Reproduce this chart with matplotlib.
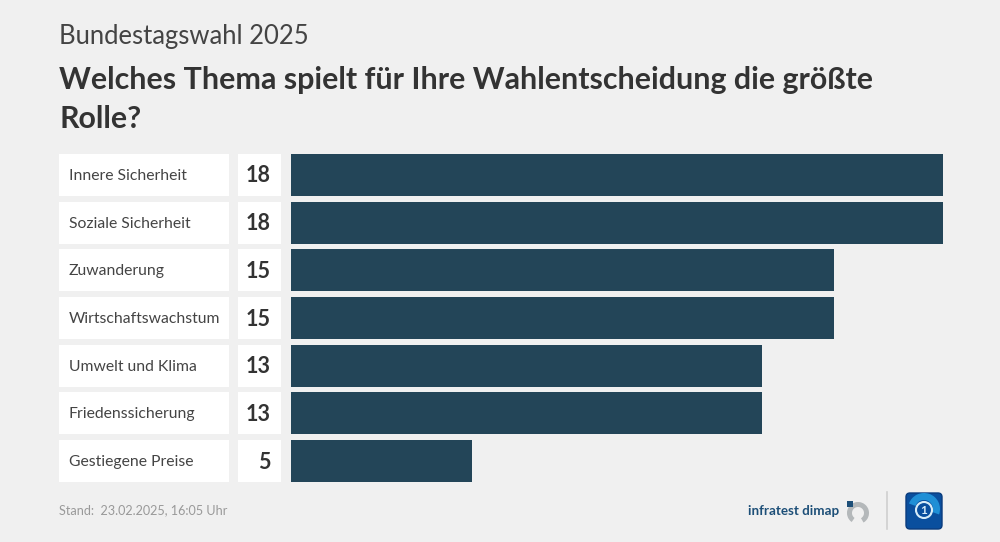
import matplotlib
matplotlib.use('Agg')
import matplotlib.pyplot as plt
from matplotlib.patches import Rectangle, Wedge, FancyBboxPatch, Circle

# data
themen = ['Innere Sicherheit', 'Soziale Sicherheit', 'Zuwanderung', 'Wirtschaftswachstum',
          'Umwelt und Klima', 'Friedenssicherung', 'Gestiegene Preise']
werte = [18, 18, 15, 15, 13, 13, 5]

W, H = 1000, 542
BG = '#f0f0f0'
BAR = '#234558'
TXT = '#333333'

plt.rcParams['font.family'] = ['Lato', 'DejaVu Sans']

fig = plt.figure(figsize=(W / 100, H / 100), dpi=100, facecolor=BG)

# background axes in pixel coordinates, for texts, label cells and logos
bg = fig.add_axes([0, 0, 1, 1])
bg.set_xlim(0, W)
bg.set_ylim(H, 0)
bg.axis('off')

# bars
ax = fig.add_axes([291 / W, 1 - 482 / H, (943 - 291) / W, (482 - 154) / H])
ax.set_facecolor('none')
ax.barh(range(len(werte)), werte, height=0.88, color=BAR)
ax.set_xlim(0, 18)
ax.set_ylim(6.44, -0.44)
ax.axis('off')

# title
bg.text(59, 36.5, 'Bundestagswahl 2025', fontsize=18.45, color='#444444', va='center')
bg.text(59, 80.5, 'Welches Thema spielt für Ihre Wahlentscheidung die größte',
        fontsize=21.9, fontweight='bold', color=TXT, va='center')
bg.text(59, 119.5, 'Rolle?', fontsize=21.9, fontweight='bold', color=TXT, va='center')

# label and value cells
for i, (t, v) in enumerate(zip(themen, werte)):
    top = 154 + i * 47.67
    mid = top + 22
    bg.add_patch(Rectangle((59, top), 170, 42, color='white', lw=0))
    bg.add_patch(Rectangle((238, top), 43, 42, color='white', lw=0))
    bg.text(69, mid, t, fontsize=11.3, color='#444444', va='center')
    bg.text(271, mid, str(v), fontsize=15.5, fontweight='bold', color=TXT, va='center', ha='right')

# footer
bg.text(59, 510.5, 'Stand:  23.02.2025, 16:05 Uhr', fontsize=9.1, color='#999999', va='center')
bg.text(839, 511, 'infratest dimap', fontsize=9.6, fontweight='bold', color='#1d4f78',
        va='center', ha='right')

# infratest logo
bg.add_patch(Wedge((858, 513), 11, -235, 60, width=5, color='#b4b8ba', lw=0))
bg.add_patch(Rectangle((847, 501), 6, 6, color='#1d4f78', lw=0))

# separator
bg.plot([886.5, 886.5], [492, 529], color='#cfcfcf', lw=1.2)

# ARD logo
bg.add_patch(FancyBboxPatch((906, 493), 36, 36, boxstyle='round,pad=0,rounding_size=4',
                            facecolor='#0a4f9e', edgecolor='#0a3c7e', lw=1))
bg.add_patch(Wedge((924, 509), 16, 200, 20, width=7, color='#1f8fd6', lw=0))
bg.add_patch(Circle((924, 510), 8, facecolor='#0a4f9e', edgecolor='#d7ecf8', lw=1.5))
bg.text(924, 510, '1', fontsize=8.5, fontweight='bold', color='#d7ecf8', ha='center', va='center')

fig.savefig('out.png', dpi=100, facecolor=BG)
